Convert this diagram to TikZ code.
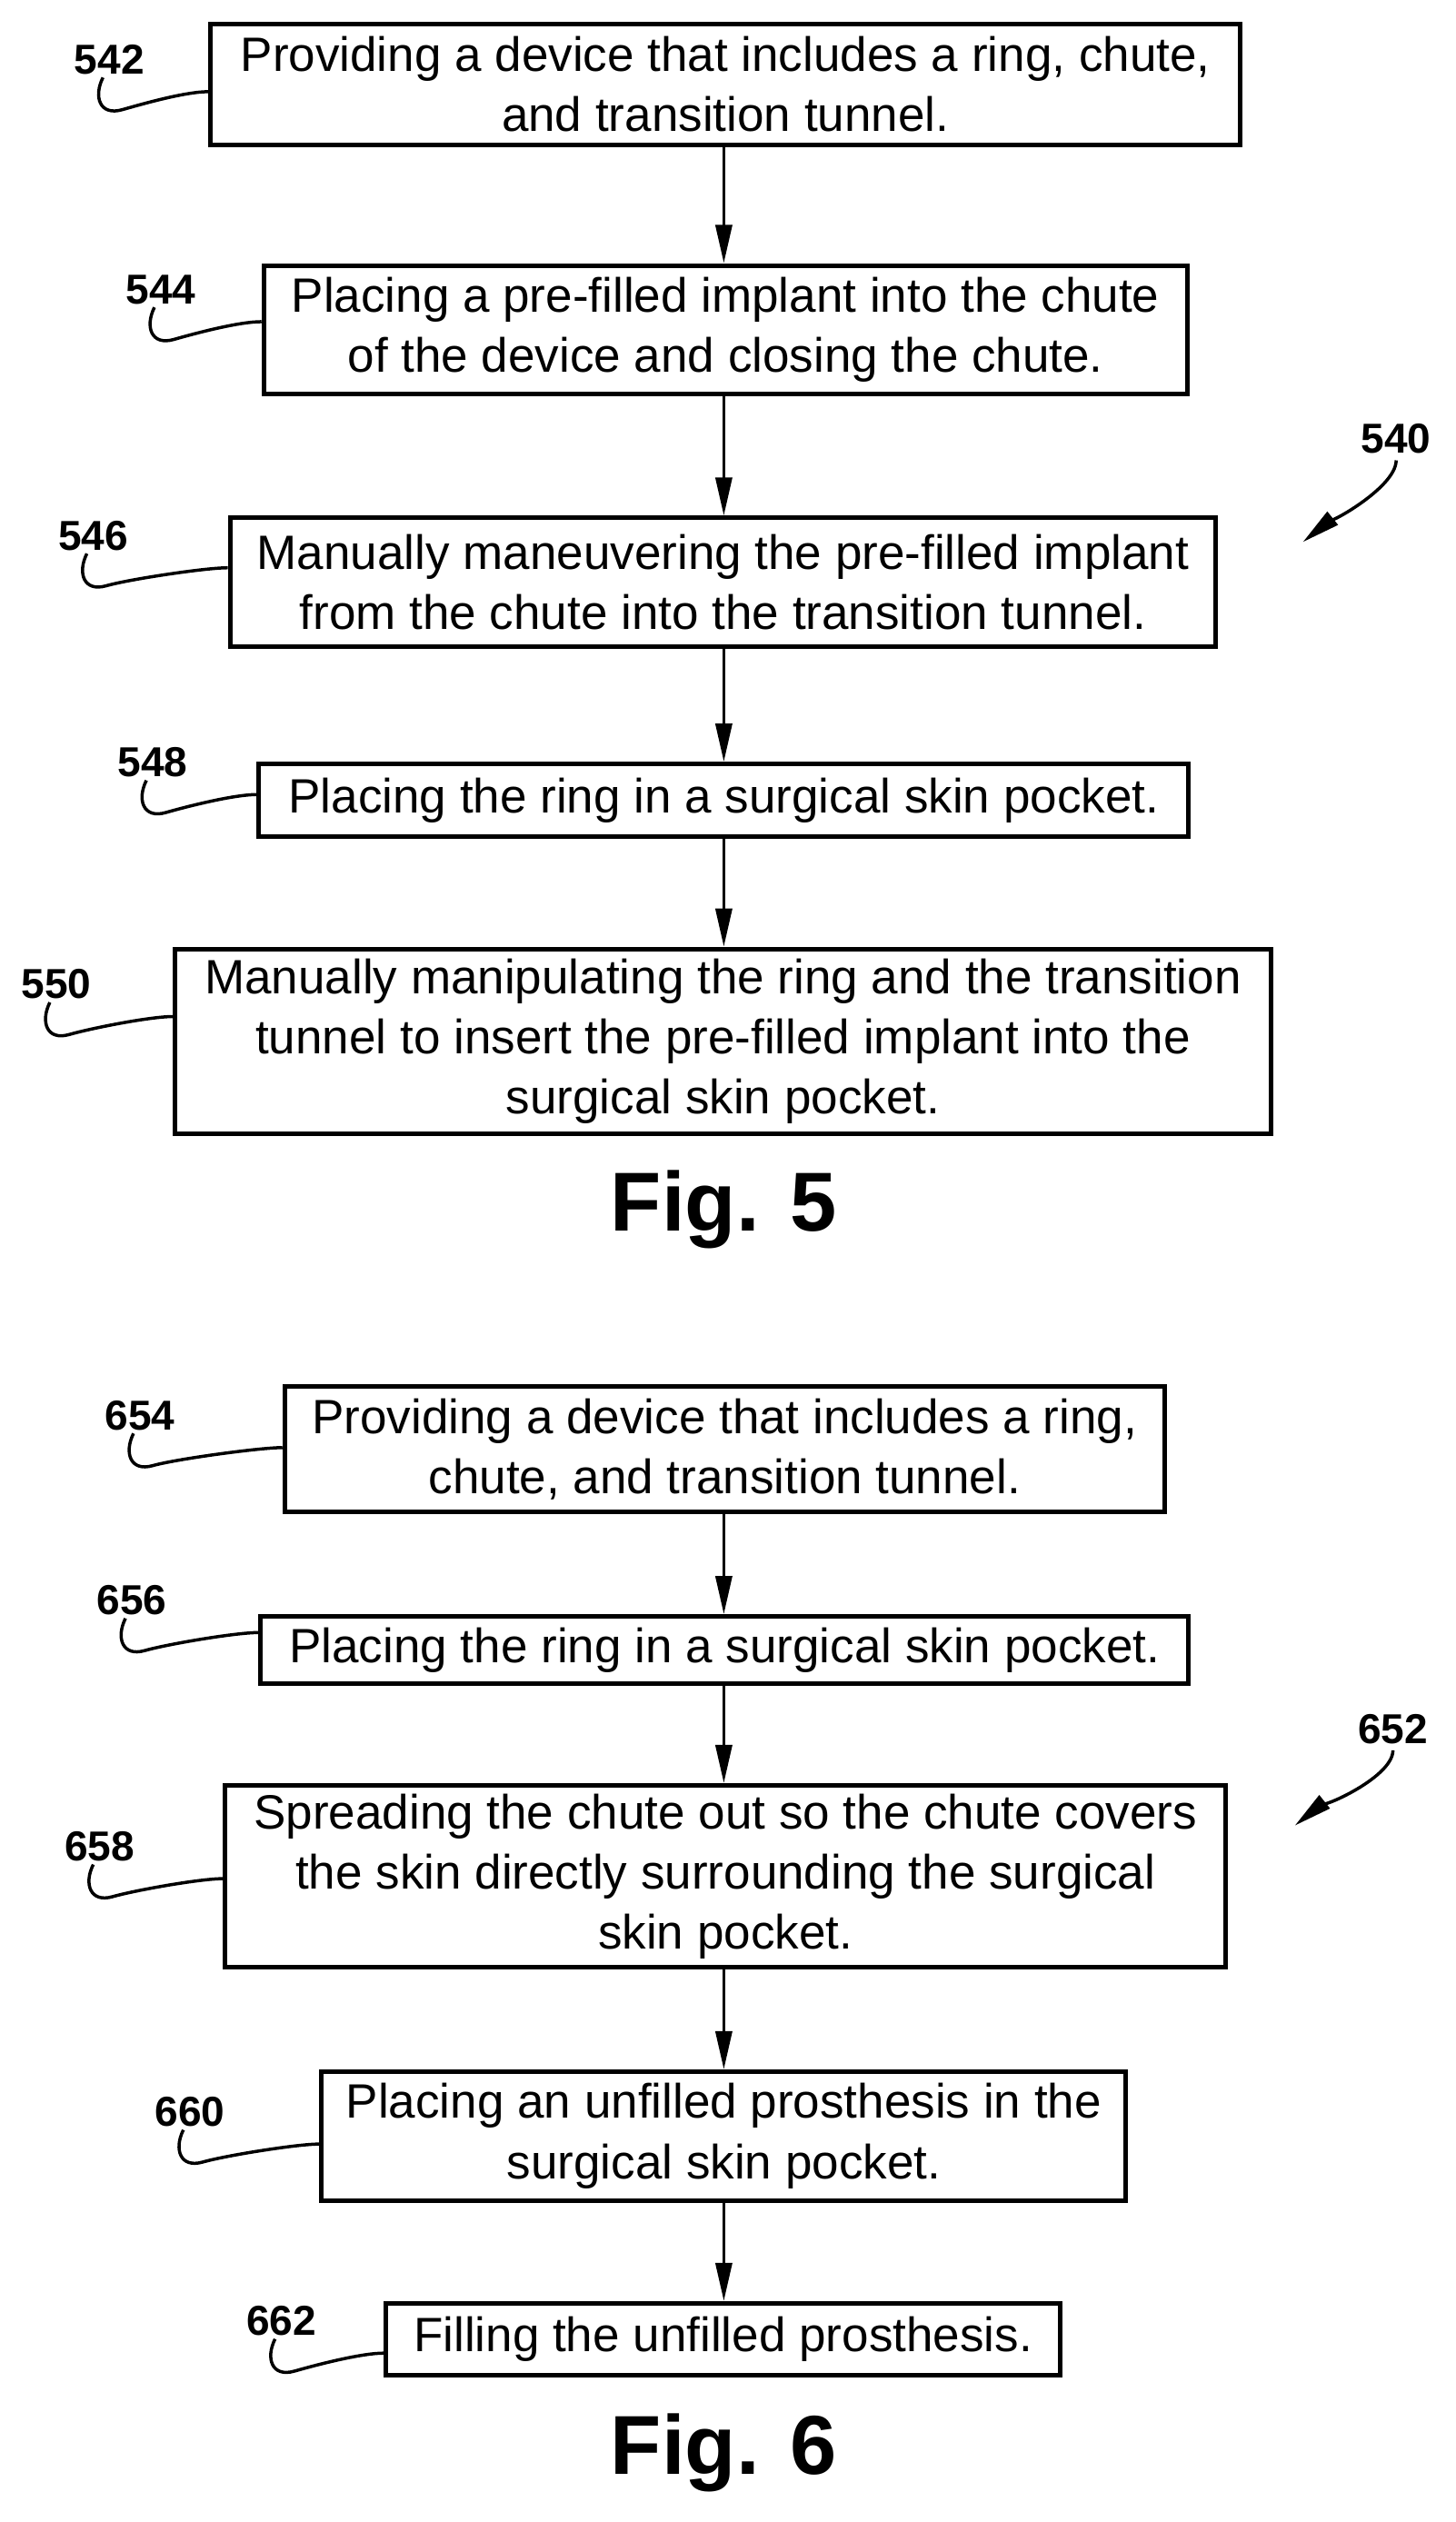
\documentclass[tikz,border=0pt]{standalone}
\usepackage{fontspec}
\setmainfont{Liberation Sans}
\usetikzlibrary{arrows.meta,calc}
\begin{document}
\begin{tikzpicture}[x=1.769pt,y=-1.769pt,
  box/.style={draw,line width=5pt,inner sep=0pt,align=center,font=\fontsize{53}{66}\selectfont},
  lab/.style={font=\bfseries\fontsize{46}{50}\selectfont},
  fig/.style={font=\bfseries\fontsize{92}{96}\selectfont},
  arr/.style={line width=3.5pt,-{Triangle[length=42pt,width=18pt]}},
  sq/.style={line width=3.5pt}]
\useasboundingbox (0,0) rectangle (905,1568);
\newcommand\bx[6]{\node[box,minimum width={(#3-#2)*1.769pt},minimum height={(#5-#4)*1.769pt}] (#1) at ({(#2+#3)/2},{(#4+#5)/2}) {#6};}
\bx{b542}{131}{771}{15}{90}{Providing a device that includes a ring, chute,\\and transition tunnel.}
\bx{b544}{164}{738}{165}{245}{Placing a pre-filled implant into the chute\\of the device and closing the chute.}
\bx{b546}{143}{756}{322}{402}{Manually maneuvering the pre-filled implant\\from the chute into the transition tunnel.}
\bx{b548}{161}{739}{475}{520}{Placing the ring in a surgical skin pocket.}
\bx{b550}{109}{790}{590}{705}{Manually manipulating the ring and the transition\\tunnel to insert the pre-filled implant into the\\surgical skin pocket.}
\bx{b654}{177}{724}{862}{940}{Providing a device that includes a ring,\\chute, and transition tunnel.}
\bx{b656}{162}{739}{1005}{1047}{Placing the ring in a surgical skin pocket.}
\bx{b658}{140}{762}{1110}{1223}{Spreading the chute out so the chute covers\\the skin directly surrounding the surgical\\skin pocket.}
\bx{b660}{200}{700}{1288}{1368}{Placing an unfilled prosthesis in the\\surgical skin pocket.}
\bx{b662}{240}{659}{1432}{1477}{Filling the unfilled prosthesis.}
\foreach \a/\b in {b542/b544,b544/b546,b546/b548,b548/b550,b654/b656,b656/b658,b658/b660,b660/b662}
  \draw[arr] (\a.south -| 450,0) -- (\b.north -| 450,0);
\node[fig] (f5) at (450,752) {Fig. 5};
\node[fig] (f6) at (450,1525) {Fig. 6};
\newcommand\lb[4]{\node[lab] (l#1) at (#2,#3) {#1};
  \draw[sq] ($(l#1.south)+(-4,0)$) .. controls +(-6,12) and +(-14,4) .. ++(12,20) .. controls +(14,-4) and +(-14,0) .. (#4.west |- 0,#3+20);}
\lb{542}{68}{37}{b542}
\lb{544}{100}{180}{b544}
\lb{546}{58}{333}{b546}
\lb{548}{95}{474}{b548}
\lb{550}{35}{612}{b550}
\lb{654}{87}{880}{b654}
\lb{656}{82}{995}{b656}
\lb{658}{62}{1148}{b658}
\lb{660}{118}{1313}{b660}
\lb{662}{175}{1443}{b662}
\node[lab] (l540) at (868,273) {540};
\coordinate (e540) at (810,337);
\draw[arr] ($(l540.south)+(0,2)$) .. controls +(0,18) and +(10,-8) .. (e540);
\node[lab] (l652) at (866,1075) {652};
\coordinate (e652) at (805,1135);
\draw[arr] ($(l652.south)+(0,2)$) .. controls +(0,18) and +(10,-8) .. (e652);
\end{tikzpicture}
\end{document}
